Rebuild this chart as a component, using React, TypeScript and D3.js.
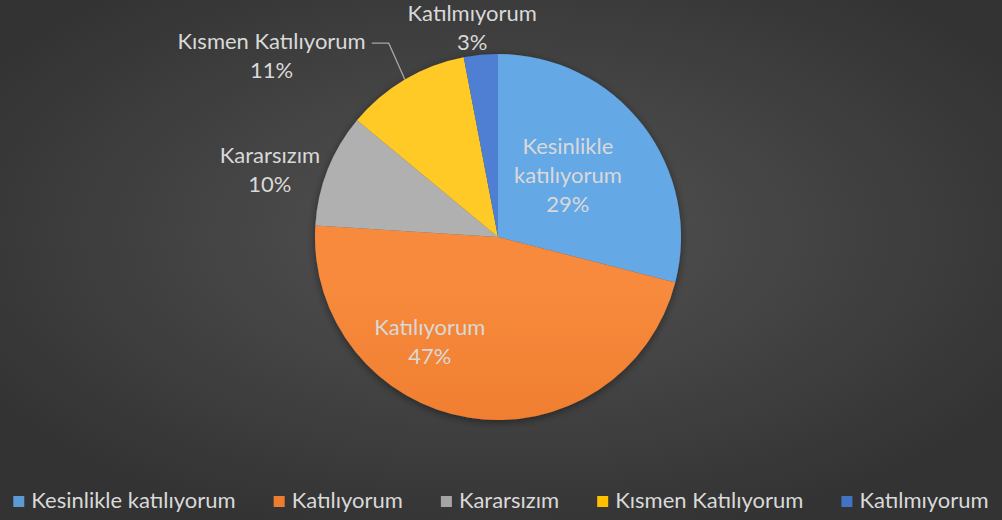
import React, { useMemo } from "react";
import * as d3 from "d3";

const categories = ["Kesinlikle katılıyorum", "Katılıyorum", "Kararsızım", "Kısmen Katılıyorum", "Katılmıyorum"];
const values = [29, 47, 10, 11, 3];
const labelLines = [["Kesinlikle", "katılıyorum"], ["Katılıyorum"], ["Kararsızım"], ["Kısmen Katılıyorum"], ["Katılmıyorum"]];
const colorsTop = ["#65a8e6", "#f78a3c", "#b0b0b0", "#ffca28", "#4f7fd2"];
const colorsBottom = ["#4a8fd6", "#e5691c", "#9c9c9c", "#f5b800", "#3f6cc0"];
const legendColors = ["#5b9bd5", "#ed7d31", "#a5a5a5", "#ffc000", "#4472c4"];

// label placement: [angle in degrees clockwise from 12 o'clock, distance as fraction of radius]
const LABEL_LAYOUT: [number, number][] = [
  [48.5, 0.51],
  [213.2, 0.68],
  [286.5, 1.3],
  [308.7, 1.585],
  [353, 1.155],
];
const LEADER = [false, false, false, true, false];

const W = 1002;
const H = 520;
const CX = 498;
const CY = 237;
const R = 183;
const FONT = "Lato, 'Open Sans', sans-serif";
const FS = 22;
const LH = 29;

function measure(text: string, size: number) {
  const c = document.createElement("canvas");
  const ctx = c.getContext("2d")!;
  ctx.font = `${size}px Lato`;
  return ctx.measureText(text).width;
}

export default function App() {
  const pie = d3.pie<number>().sort(null).value((d) => d);
  const arcs = pie(values);
  const arc = d3.arc<d3.PieArcDatum<number>>().innerRadius(0).outerRadius(R);

  const legend = useMemo(() => {
    const sq = 11, gap1 = 7, gap2 = 38;
    const widths = categories.map((c) => measure(c, FS));
    const total = widths.reduce((a, b) => a + b, 0) + categories.length * (sq + gap1) + (categories.length - 1) * gap2;
    let x = W / 2 - total / 2;
    return categories.map((c, i) => {
      const item = { x, w: widths[i], c, i };
      x += sq + gap1 + widths[i] + gap2;
      return item;
    });
  }, []);

  return (
    <div style={{ position: "absolute", left: 0, top: 0 }}>
      <svg width={W} height={H} style={{ display: "block" }}>
        <defs>
          <radialGradient id="bg" cx="50%" cy="45%" r="60%">
            <stop offset="0%" stopColor="#545454" />
            <stop offset="100%" stopColor="#333333" />
          </radialGradient>
          {values.map((_, i) => (
            <linearGradient key={i} id={`g${i}`} gradientUnits="userSpaceOnUse" x1={0} y1={CY - R} x2={0} y2={CY + R}>
              <stop offset="0%" stopColor={colorsTop[i]} />
              <stop offset="100%" stopColor={colorsBottom[i]} />
            </linearGradient>
          ))}
          <filter id="shadow" x="-20%" y="-20%" width="140%" height="140%">
            <feDropShadow dx="0" dy="2" stdDeviation="4" floodColor="#000" floodOpacity="0.45" />
          </filter>
        </defs>
        <rect x={0} y={0} width={W} height={H} fill="url(#bg)" />
        <g transform={`translate(${CX},${CY})`} filter="url(#shadow)">
          {arcs.map((a, i) => (
            <path key={i} d={arc(a) || ""} fill={`url(#g${i})`} />
          ))}
        </g>
        {arcs.map((a, i) => {
          const [ang, k] = LABEL_LAYOUT[i];
          const rad = (ang * Math.PI) / 180;
          const lx = CX + Math.sin(rad) * R * k;
          const ly = CY - Math.cos(rad) * R * k;
          const lines = [...labelLines[i], `${values[i]}%`];
          const n = lines.length;
          const baselines = lines.map((_, j) => ly + (j - (n - 1) / 2) * LH + 8);
          let leader = null;
          if (LEADER[i]) {
            const mid = (a.startAngle + a.endAngle) / 2;
            const ex = CX + Math.sin(mid) * R;
            const ey = CY - Math.cos(mid) * R;
            const sx = lx + measure(lines[0], FS) / 2 + 6;
            const sy = baselines[0] - 6;
            leader = (
              <polyline
                points={`${sx},${sy} ${sx + 17},${sy} ${ex},${ey}`}
                fill="none"
                stroke="#a6a6a6"
                strokeWidth={1.3}
              />
            );
          }
          return (
            <g key={i}>
              {leader}
              <text fill="#d9d9d9" fontFamily={FONT} fontSize={FS} textAnchor="middle">
                {lines.map((t, j) => (
                  <tspan key={j} x={lx} y={baselines[j]}>
                    {t}
                  </tspan>
                ))}
              </text>
            </g>
          );
        })}
        {legend.map((it) => (
          <g key={it.i}>
            <rect x={it.x} y={496} width={11} height={11} fill={legendColors[it.i]} />
            <text x={it.x + 18} y={508} fill="#d9d9d9" fontFamily={FONT} fontSize={FS}>
              {it.c}
            </text>
          </g>
        ))}
      </svg>
    </div>
  );
}
